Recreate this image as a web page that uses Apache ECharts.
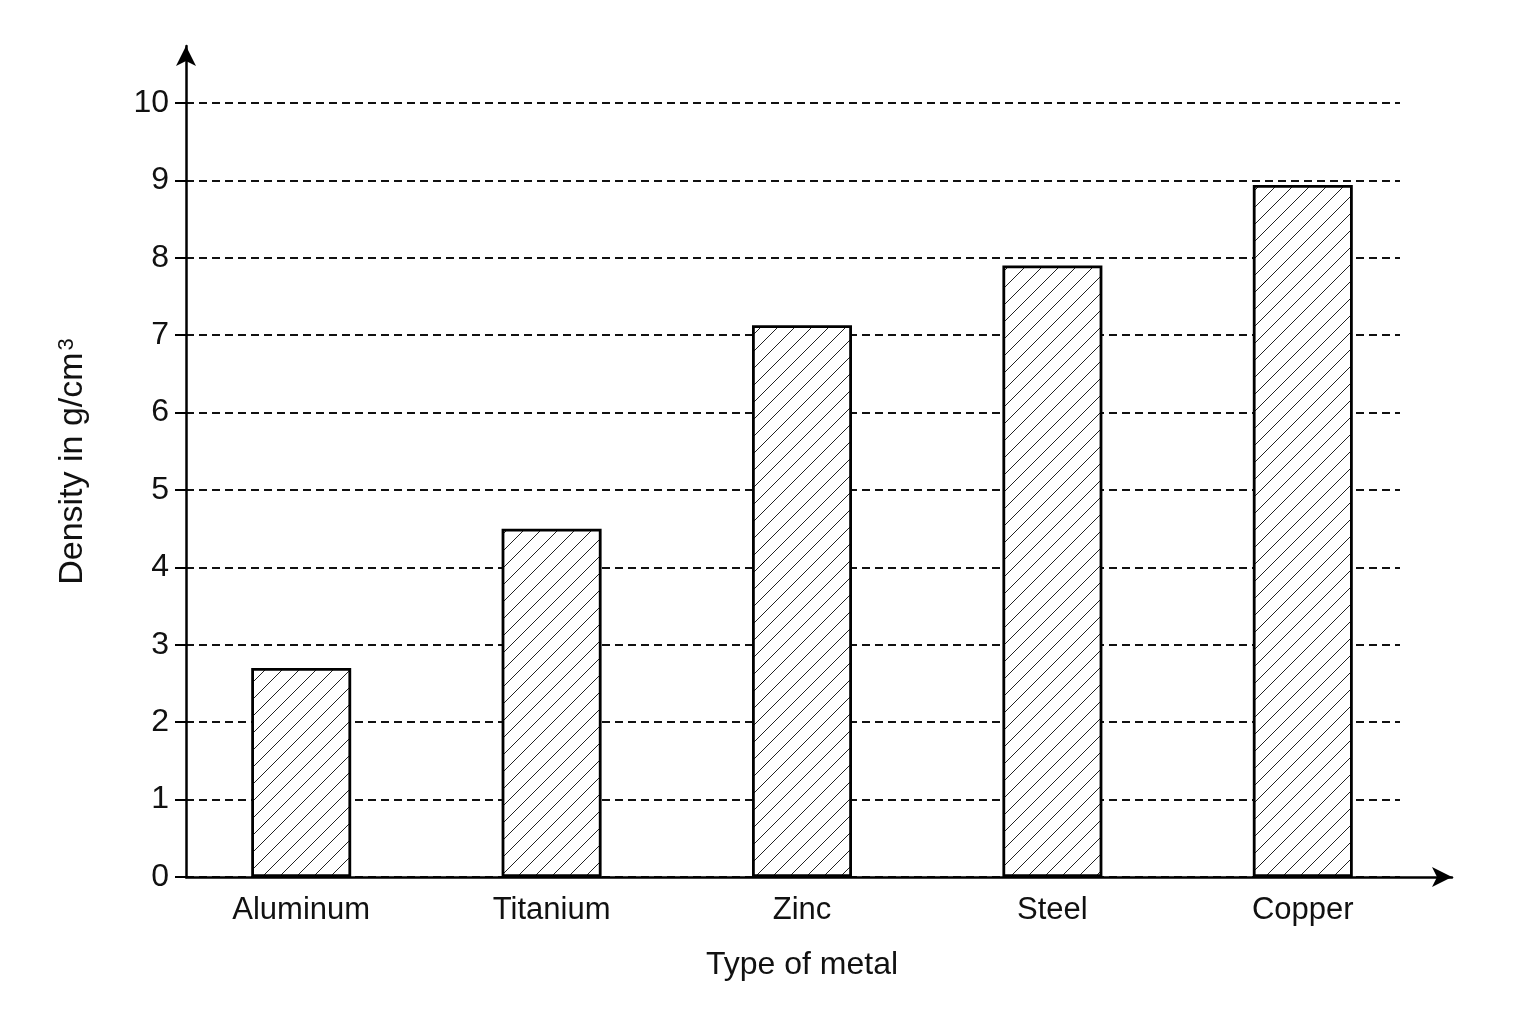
<!DOCTYPE html>
<html>
<head>
    <meta charset="utf-8"/>
    <title>Density of metals</title>
    <script src="https://cdn.jsdelivr.net/npm/echarts@6/dist/echarts.min.js"></script>
    <style>
        html, body { margin: 0; padding: 0; background: #fff; }
    </style>
</head>
<body>
<div id="main" style="width: 1536px;height:1024px;"></div>
<script type="text/javascript">
    // values
    var metals = ['Aluminum', 'Titanium', 'Zinc', 'Steel', 'Copper'];
    var density = [2.7, 4.5, 7.13, 7.9, 8.94];
    var yTicks = [0, 1, 2, 3, 4, 5, 6, 7, 8, 9, 10];

    // diagonal hatch for the bars
    function hatch() {
        var s = 17;
        var c = document.createElement('canvas');
        c.width = s;
        c.height = s;
        var ctx = c.getContext('2d');
        ctx.fillStyle = '#fff';
        ctx.fillRect(0, 0, s, s);
        ctx.strokeStyle = '#222';
        ctx.lineWidth = 1;
        ctx.beginPath();
        ctx.moveTo(-1, s + 1);
        ctx.lineTo(s + 1, -1);
        ctx.moveTo(-2, 2);
        ctx.lineTo(2, -2);
        ctx.moveTo(s - 2, s + 2);
        ctx.lineTo(s + 2, s - 2);
        ctx.stroke();
        return c;
    }

    var font = 'Liberation Sans, Arial, sans-serif';
    var arrowLine = { show: true, lineStyle: { color: '#000', width: 2.5 }, symbol: ['none', 'arrow'], symbolSize: [15, 20] };
    var myChart = echarts.init(document.getElementById('main'));

    myChart.setOption({
        animation: false,
        backgroundColor: '#fff',
        textStyle: { fontFamily: font },
        grid: [
            // labels, ticks and dashed lines
            { left: 186, right: 136, top: 103, bottom: 147 },
            // the two arrowed axes
            { left: 186, right: 84, top: 46, bottom: 147 },
            // the bars (bands start a little left of the y axis in the original)
            { left: 176, right: 108, top: 103, bottom: 147 }
        ],
        xAxis: [
            { gridIndex: 0, type: 'value', show: false },
            {
                gridIndex: 1, type: 'value', min: 0, max: 1,
                axisLine: arrowLine,
                axisTick: { show: false }, axisLabel: { show: false }, splitLine: { show: false }
            },
            {
                gridIndex: 2, type: 'category', data: metals,
                axisLine: { show: false }, axisTick: { show: false },
                axisLabel: { color: '#111', fontSize: 31, margin: 18, fontFamily: font },
                name: 'Type of metal', nameLocation: 'middle', nameGap: 72,
                nameTextStyle: { color: '#111', fontSize: 32, fontFamily: font }
            }
        ],
        yAxis: [
            {
                gridIndex: 0, type: 'value', min: 0, max: 10, interval: 1,
                axisLine: { show: false },
                axisTick: { show: true, length: 11, customValues: yTicks, lineStyle: { color: '#000', width: 2 } },
                axisLabel: { color: '#111', fontSize: 32, margin: 17, fontFamily: font, customValues: yTicks },
                splitLine: { show: true, lineStyle: { color: '#111', width: 1.8, type: [8, 5] } }
            },
            {
                gridIndex: 1, type: 'value', min: 0, max: 1,
                axisLine: arrowLine,
                axisTick: { show: false }, axisLabel: { show: false }, splitLine: { show: false },
                name: 'Density in g/cm{sup|3}', nameLocation: 'middle', nameGap: 96,
                nameTextStyle: {
                    color: '#111', fontSize: 34, fontFamily: font,
                    rich: { sup: { fontSize: 22, verticalAlign: 'top', color: '#111', fontFamily: font, padding: [0, 0, 0, 2] } }
                }
            },
            { gridIndex: 2, type: 'value', min: 0, max: 10, show: false }
        ],
        series: [
            {
                type: 'bar',
                xAxisIndex: 2,
                yAxisIndex: 2,
                barWidth: 100,
                z: 3,
                data: density,
                itemStyle: {
                    color: { image: hatch(), repeat: 'repeat' },
                    borderColor: '#000',
                    borderWidth: 2.8
                }
            }
        ]
    });
</script>
</body>
</html>
